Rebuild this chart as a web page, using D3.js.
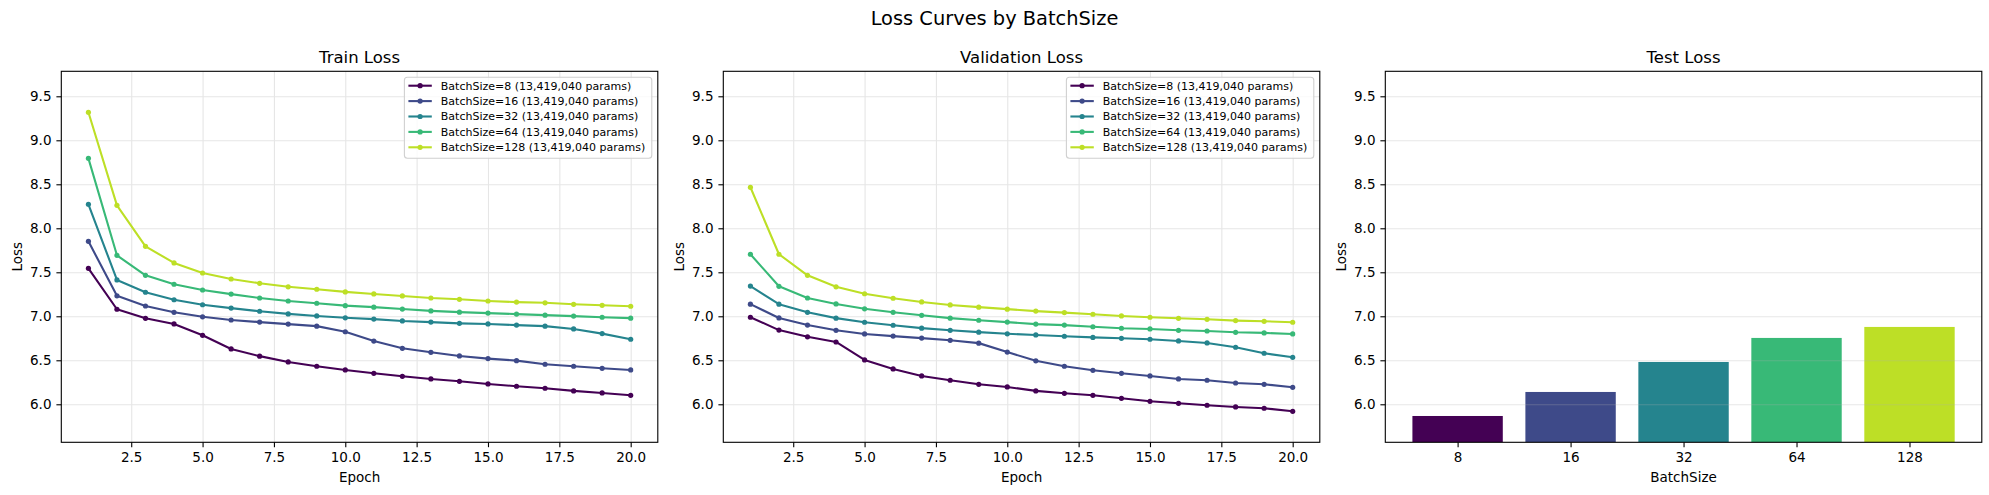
<!DOCTYPE html>
<html>
<head>
<meta charset="utf-8">
<script src="https://cdn.jsdelivr.net/npm/d3@7"></script>
<style>
  html, body { margin: 0; padding: 0; background: #fff; }
  svg { display: block; font-family: "DejaVu Sans", sans-serif; }
</style>
</head>
<body>
<div id="chart"></div>
<script>
// ---------- DATA ----------
const epochs = [1, 2, 3, 4, 5, 6, 7, 8, 9, 10, 11, 12, 13, 14, 15, 16, 17, 18, 19, 20];
const batchSizes = [8, 16, 32, 64, 128];
const paramCounts = ["13,419,040", "13,419,040", "13,419,040", "13,419,040", "13,419,040"];

const trainBS8   = [7.545, 7.080, 6.977, 6.913, 6.784, 6.629, 6.547, 6.481, 6.432, 6.390, 6.352, 6.318, 6.288, 6.261, 6.231, 6.205, 6.182, 6.152, 6.129, 6.102];
const trainBS16  = [7.852, 7.233, 7.117, 7.045, 6.994, 6.958, 6.934, 6.911, 6.888, 6.824, 6.718, 6.636, 6.591, 6.549, 6.519, 6.496, 6.455, 6.432, 6.409, 6.390];
const trainBS32  = [8.273, 7.413, 7.273, 7.188, 7.131, 7.093, 7.057, 7.027, 7.004, 6.983, 6.968, 6.947, 6.934, 6.920, 6.913, 6.900, 6.888, 6.856, 6.803, 6.739];
const trainBS64  = [8.795, 7.693, 7.466, 7.364, 7.299, 7.252, 7.208, 7.174, 7.148, 7.121, 7.104, 7.082, 7.061, 7.047, 7.036, 7.025, 7.013, 7.002, 6.989, 6.979];
const trainBS128 = [9.318, 8.261, 7.795, 7.606, 7.492, 7.424, 7.375, 7.335, 7.307, 7.277, 7.254, 7.231, 7.208, 7.193, 7.174, 7.161, 7.153, 7.136, 7.125, 7.114];

const valBS8   = [6.989, 6.843, 6.767, 6.708, 6.504, 6.402, 6.322, 6.273, 6.227, 6.197, 6.152, 6.125, 6.102, 6.068, 6.034, 6.011, 5.989, 5.970, 5.955, 5.920];
const valBS16  = [7.138, 6.981, 6.900, 6.841, 6.799, 6.775, 6.752, 6.727, 6.695, 6.593, 6.494, 6.432, 6.386, 6.352, 6.322, 6.288, 6.273, 6.242, 6.227, 6.193];
const valBS32  = [7.343, 7.138, 7.045, 6.979, 6.932, 6.898, 6.865, 6.841, 6.820, 6.801, 6.788, 6.773, 6.760, 6.750, 6.739, 6.720, 6.697, 6.648, 6.580, 6.534];
const valBS64  = [7.705, 7.341, 7.208, 7.140, 7.085, 7.045, 7.011, 6.979, 6.955, 6.934, 6.911, 6.900, 6.881, 6.864, 6.856, 6.841, 6.833, 6.818, 6.811, 6.799];
const valBS128 = [8.466, 7.705, 7.466, 7.335, 7.256, 7.205, 7.163, 7.129, 7.104, 7.081, 7.059, 7.042, 7.023, 7.004, 6.989, 6.977, 6.966, 6.951, 6.943, 6.932];

const testLoss = [5.867, 6.140, 6.481, 6.754, 6.879];

const yTicks = [6.0, 6.5, 7.0, 7.5, 8.0, 8.5, 9.0, 9.5];
const xTicks = [2.5, 5.0, 7.5, 10.0, 12.5, 15.0, 17.5, 20.0];
const yDomain = [5.568, 9.784];
const xDomain = [0.05, 20.95];

const trainSeries = [trainBS8, trainBS16, trainBS32, trainBS64, trainBS128];
const valSeries = [valBS8, valBS16, valBS32, valBS64, valBS128];

// ---------- LAYOUT ----------
const W = 1989, H = 495;
const axW = 596.5, axTop = 71.3, axBottom = 442.3;
const lefts = [61.3, 723.3, 1385.3];
const color = i => d3.interpolateViridis(i * 0.9 / (batchSizes.length - 1));
const gridColor = "#e6e6e6";
const tickFont = 13.5;

const svg = d3.select("#chart").append("svg").attr("width", W).attr("height", H);

svg.append("text").attr("x", W / 2).attr("y", 25).attr("text-anchor", "middle")
  .attr("font-size", 19.4).attr("fill", "#000").text("Loss Curves by BatchSize");

const y = d3.scaleLinear().domain(yDomain).range([axBottom, axTop]);

function styleAxis(g) {
  g.selectAll(".domain").remove();
  g.selectAll(".tick line").attr("stroke", "#000").attr("stroke-width", 1.1);
  g.selectAll(".tick text").attr("font-size", tickFont).attr("fill", "#000")
    .attr("font-family", "DejaVu Sans, sans-serif");
}

function panel(idx, title, xlabel) {
  const left = lefts[idx];
  const g = svg.append("g");
  const clipId = "clip" + idx;
  svg.append("clipPath").attr("id", clipId).append("rect")
    .attr("x", left).attr("y", axTop).attr("width", axW).attr("height", axBottom - axTop);
  g.append("text").attr("x", left + axW / 2).attr("y", 63.3).attr("text-anchor", "middle")
    .attr("font-size", 16.5).attr("fill", "#000").text(title);
  g.append("text").attr("x", left + axW / 2).attr("y", 482).attr("text-anchor", "middle")
    .attr("font-size", tickFont).attr("fill", "#000").text(xlabel);
  g.append("text").attr("transform", `translate(${left - 39.8},${(axTop + axBottom) / 2}) rotate(-90)`)
    .attr("text-anchor", "middle").attr("font-size", tickFont).attr("fill", "#000").text("Loss");
  return { g, left, clipId };
}

function spines(g, left) {
  g.append("rect").attr("x", left).attr("y", axTop).attr("width", axW).attr("height", axBottom - axTop)
    .attr("fill", "none").attr("stroke", "#000").attr("stroke-width", 1.1);
}

function yAxis(g, left) {
  g.append("g").attr("transform", `translate(${left},0)`)
    .call(d3.axisLeft(y).tickValues(yTicks).tickFormat(d3.format(".1f")).tickSize(4.9).tickPadding(4.9))
    .call(styleAxis);
}

function yGrid(g, left, clipId) {
  g.append("g").attr("transform", `translate(${left},0)`)
    .call(d3.axisLeft(y).tickValues(yTicks).tickSize(-axW).tickFormat(""))
    .call(gg => { gg.selectAll(".domain").remove(); gg.selectAll(".tick line").attr("stroke", gridColor).attr("stroke-width", 1.1); });
}

function linePanel(idx, title, series) {
  const { g, left, clipId } = panel(idx, title, "Epoch");
  const x = d3.scaleLinear().domain(xDomain).range([left, left + axW]);
  // grid
  g.append("g").attr("transform", `translate(0,${axBottom})`)
    .call(d3.axisBottom(x).tickValues(xTicks).tickSize(-(axBottom - axTop)).tickFormat(""))
    .call(gg => { gg.selectAll(".domain").remove(); gg.selectAll(".tick line").attr("stroke", gridColor).attr("stroke-width", 1.1); });
  yGrid(g, left, clipId);
  // lines
  const line = d3.line().x((d, i) => x(epochs[i])).y(d => y(d));
  const plot = g.append("g").attr("clip-path", `url(#${clipId})`);
  series.forEach((vals, si) => {
    plot.append("path").datum(vals).attr("d", line).attr("fill", "none")
      .attr("stroke", color(si)).attr("stroke-width", 2.1).attr("stroke-linejoin", "round");
    plot.selectAll(null).data(vals).enter().append("circle")
      .attr("cx", (d, i) => x(epochs[i])).attr("cy", d => y(d)).attr("r", 2.6).attr("fill", color(si));
  });
  // axes
  g.append("g").attr("transform", `translate(0,${axBottom})`)
    .call(d3.axisBottom(x).tickValues(xTicks).tickFormat(d3.format(".1f")).tickSize(4.9).tickPadding(4.9))
    .call(styleAxis);
  yAxis(g, left);
  spines(g, left);
  // legend
  const lgW = 247.4, lgH = 81;
  const lx = left + axW - 6 - lgW, ly = axTop + 6;
  const lg = g.append("g");
  lg.append("rect").attr("x", lx).attr("y", ly).attr("width", lgW).attr("height", lgH)
    .attr("rx", 3).attr("fill", "#fff").attr("fill-opacity", 0.8).attr("stroke", "#d0d0d0").attr("stroke-width", 1.1);
  batchSizes.forEach((b, i) => {
    const ry = ly + 8.4 + i * 15.4;
    lg.append("line").attr("x1", lx + 4).attr("x2", lx + 27.4).attr("y1", ry).attr("y2", ry)
      .attr("stroke", color(i)).attr("stroke-width", 2.1);
    lg.append("circle").attr("cx", lx + 15.7).attr("cy", ry).attr("r", 2.6).attr("fill", color(i));
    lg.append("text").attr("x", lx + 36.4).attr("y", ry).attr("dy", "0.36em")
      .attr("font-size", 11).attr("fill", "#000").text(`BatchSize=${b} (${paramCounts[i]} params)`);
  });
}

linePanel(0, "Train Loss", trainSeries);
linePanel(1, "Validation Loss", valSeries);

// Test panel
(function () {
  const { g, left, clipId } = panel(2, "Test Loss", "BatchSize");
  const xs = d3.scaleLinear().domain([-0.64, 4.64]).range([left, left + axW]);
  const barW = 0.8;
  const bars = g.append("g").attr("clip-path", `url(#${clipId})`);
  bars.selectAll("rect").data(testLoss).enter().append("rect")
    .attr("x", (d, i) => xs(i - barW / 2)).attr("width", (d, i) => xs(i + barW / 2) - xs(i - barW / 2))
    .attr("y", d => y(d)).attr("height", d => y(0 > yDomain[0] ? 0 : yDomain[0]) - y(d))
    .attr("fill", (d, i) => color(i));
  // grid above bars, semi-transparent
  g.append("g").attr("transform", `translate(${left},0)`)
    .call(d3.axisLeft(y).tickValues(yTicks).tickSize(-axW).tickFormat(""))
    .call(gg => { gg.selectAll(".domain").remove(); gg.selectAll(".tick line").attr("stroke", "#b0b0b0").attr("stroke-opacity", 0.3).attr("stroke-width", 1.1); });
  g.append("g").attr("transform", `translate(0,${axBottom})`)
    .call(d3.axisBottom(xs).tickValues(d3.range(batchSizes.length)).tickFormat(i => String(batchSizes[i])).tickSize(4.9).tickPadding(4.9))
    .call(styleAxis);
  yAxis(g, left);
  spines(g, left);
})();
</script>
</body>
</html>
